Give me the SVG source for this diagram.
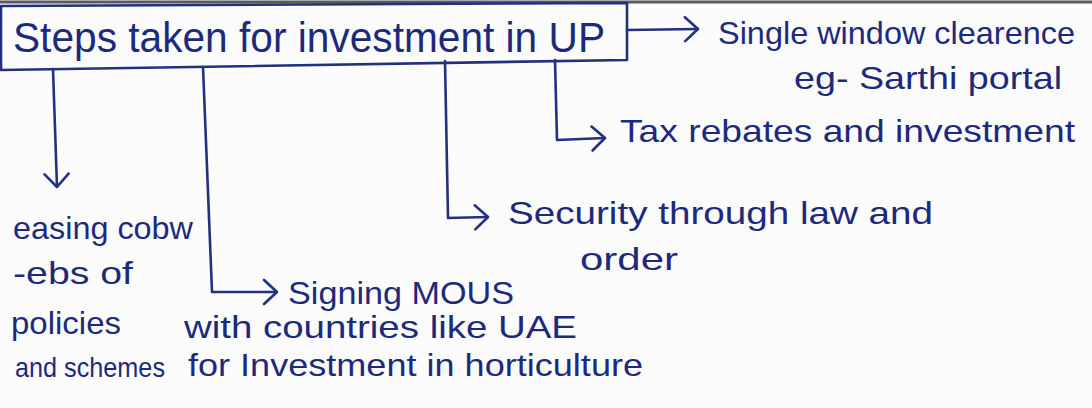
<svg xmlns="http://www.w3.org/2000/svg" width="1092" height="408" viewBox="0 0 1092 408">
  <style>
    .ink { fill: none; stroke: #22307f; stroke-width: 2.6; stroke-linecap: round; stroke-linejoin: round; }
    .txt { font-family: "Liberation Sans", "DejaVu Sans", sans-serif; fill: #1d2a7c; }
    .title { font-size: 42px; }
    .lbl { font-size: 32px; }
    .sm { font-size: 28px; }
  </style>
  <defs>
    <marker id="open-arrow" viewBox="0 0 16 28" refX="15" refY="14" markerWidth="16" markerHeight="28" markerUnits="userSpaceOnUse" orient="auto">
      <path d="M2,2 L15,14 L2,26" fill="none" stroke="#22307f" stroke-width="2.6" stroke-linecap="round" stroke-linejoin="round"/>
    </marker>
  </defs>

  <!-- paper -->
  <rect x="0" y="0" width="1092" height="408" fill="#fcfcfc"/>
  <line x1="0" y1="2" x2="1092" y2="2" stroke="#5a5a60" stroke-width="3"/>

  <!-- root node -->
  <g id="root">
    <path class="ink" d="M1,6 L627,3 L627,60 L1,70 Z"/>
    <text class="txt title" x="13" y="52" textLength="592" lengthAdjust="spacingAndGlyphs">Steps taken for investment in UP</text>
  </g>

  <!-- connectors -->
  <g id="connectors">
    <path class="ink" d="M627,30 L698,29" marker-end="url(#open-arrow)"/>
    <path class="ink" d="M53,69 L57,187" marker-end="url(#open-arrow)"/>
    <path class="ink" d="M203,67 L212,292 L277,292" marker-end="url(#open-arrow)"/>
    <path class="ink" d="M445,61 L448,218 L488,217" marker-end="url(#open-arrow)"/>
    <path class="ink" d="M555,60 L557,140 L605,138" marker-end="url(#open-arrow)"/>
  </g>

  <g id="single-window">
    <text class="txt lbl" x="718" y="44" textLength="357" lengthAdjust="spacingAndGlyphs">Single window clearence</text>
    <text class="txt lbl" x="794" y="89" textLength="268" lengthAdjust="spacingAndGlyphs">eg- Sarthi portal</text>
  </g>

  <g id="tax-rebates">
    <text class="txt lbl" x="620" y="142" textLength="455" lengthAdjust="spacingAndGlyphs">Tax rebates and investment</text>
  </g>

  <g id="easing-cobwebs">
    <text class="txt lbl" x="13" y="239" textLength="180" lengthAdjust="spacingAndGlyphs">easing cobw</text>
    <text class="txt lbl" x="13" y="284" textLength="120" lengthAdjust="spacingAndGlyphs">-ebs of</text>
    <text class="txt lbl" x="11" y="334" textLength="110" lengthAdjust="spacingAndGlyphs">policies</text>
    <text class="txt sm" x="15" y="377" textLength="150" lengthAdjust="spacingAndGlyphs">and schemes</text>
  </g>

  <g id="security">
    <text class="txt lbl" x="508" y="224" textLength="425" lengthAdjust="spacingAndGlyphs">Security through law and</text>
    <text class="txt lbl" x="580" y="270" textLength="98" lengthAdjust="spacingAndGlyphs">order</text>
  </g>

  <g id="signing-mous">
    <text class="txt lbl" x="288" y="304" textLength="226" lengthAdjust="spacingAndGlyphs">Signing MOUS</text>
    <text class="txt lbl" x="184" y="338" textLength="393" lengthAdjust="spacingAndGlyphs">with countries like UAE</text>
    <text class="txt lbl" x="188" y="376" textLength="455" lengthAdjust="spacingAndGlyphs">for Investment in horticulture</text>
  </g>
</svg>
